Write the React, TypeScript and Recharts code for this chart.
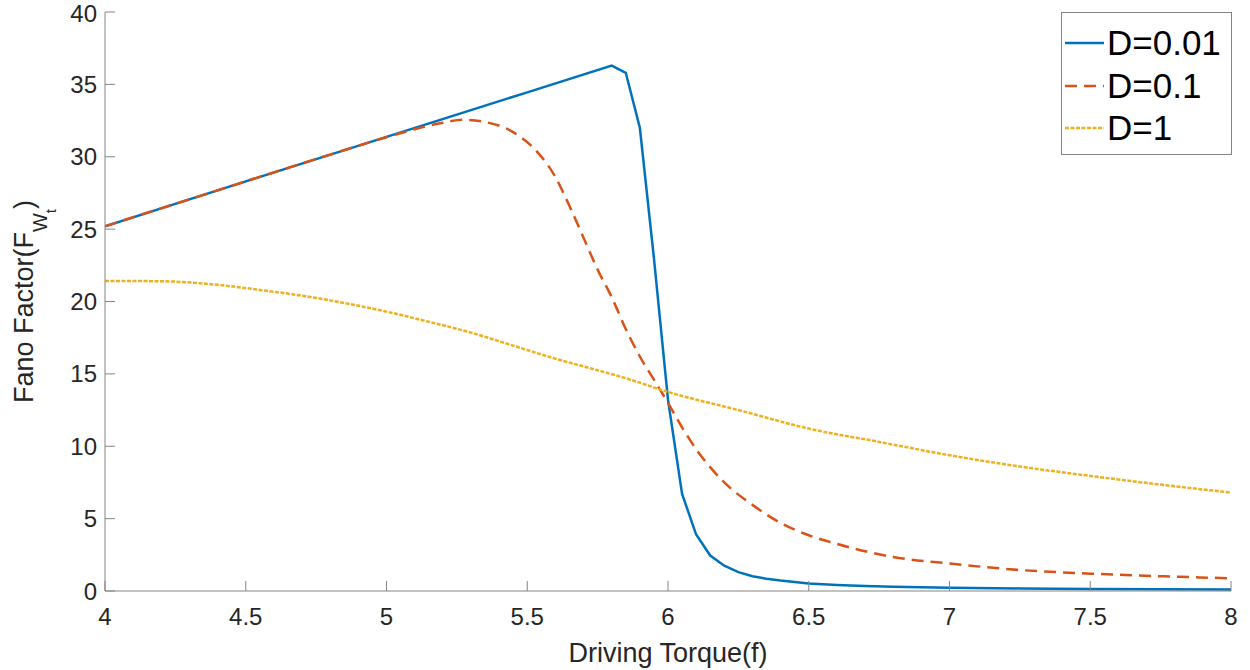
import React from "react";
import { LineChart, Line, XAxis, YAxis, Legend } from "recharts";

const FONT = '"Liberation Sans", Arial, Helvetica, sans-serif';

const xTicks = [4, 4.5, 5, 5.5, 6, 6.5, 7, 7.5, 8];
const yTicks = [0, 5, 10, 15, 20, 25, 30, 35, 40];

const seriesNames = ["D=0.01", "D=0.1", "D=1"];
const seriesColors = ["#0072BD", "#D95319", "#EDB120"];
const seriesDash = ["", "12 7", "4 1.5"];

const blueX = [4, 4.5, 5, 5.5, 5.8, 5.85, 5.9, 5.95, 6.0, 6.05, 6.1, 6.15, 6.2, 6.25, 6.3, 6.35, 6.4, 6.45, 6.5, 6.6, 6.7, 6.8, 6.9, 7.0, 7.25, 7.5, 7.75, 8];
const blueY = [25.2, 28.3, 31.37, 34.45, 36.3, 35.8, 32.0, 23.0, 13.2, 6.7, 3.9, 2.45, 1.75, 1.3, 1.02, 0.85, 0.72, 0.62, 0.52, 0.42, 0.35, 0.3, 0.26, 0.23, 0.18, 0.14, 0.12, 0.1];

const redX = [4, 4.5, 4.8, 5.0, 5.1, 5.2, 5.27, 5.35, 5.45, 5.53, 5.6, 5.65, 5.7, 5.75, 5.8, 5.85, 5.9, 5.95, 6.0, 6.05, 6.1, 6.2, 6.3, 6.4, 6.5, 6.6, 6.8, 7.0, 7.25, 7.5, 7.75, 8];
const redY = [25.2, 28.3, 30.15, 31.35, 31.9, 32.35, 32.55, 32.4, 31.7, 30.45, 28.6, 26.6, 24.4, 22.2, 20.3, 18.1, 16.2, 14.6, 13.0, 11.3, 9.8, 7.5, 5.95, 4.7, 3.85, 3.25, 2.35, 1.9, 1.45, 1.2, 1.02, 0.88];

const yellowX = [4, 4.2, 4.4, 4.55, 4.7, 4.85, 5.0, 5.15, 5.3, 5.45, 5.6, 5.75, 5.85, 6.0, 6.25, 6.5, 6.75, 7.0, 7.25, 7.5, 7.75, 8];
const yellowY = [21.42, 21.4, 21.15, 20.8, 20.4, 19.9, 19.3, 18.6, 17.85, 16.95, 16.05, 15.25, 14.7, 13.75, 12.5, 11.22, 10.3, 9.38, 8.6, 7.95, 7.35, 6.8];

const toData = (xs: number[], ys: number[]) => xs.map((x, i) => ({ x, y: ys[i] }));
const seriesData = [toData(blueX, blueY), toData(redX, redY), toData(yellowX, yellowY)];
const seriesCurve: ("linear" | "monotoneX")[] = ["linear", "monotoneX", "monotoneX"];

const AXIS_COLOR = "#858585";
const TEXT_COLOR = "#262626";

const YLabel = (props: any) => {
  const vb = props.viewBox || { x: 0, y: 0, width: 105, height: 578 };
  const cx = vb.x + 33;
  const cy = vb.y + vb.height / 2;
  return (
    <text
      x={cx}
      y={cy}
      transform={`rotate(-90, ${cx}, ${cy})`}
      textAnchor="middle"
      fill={TEXT_COLOR}
      fontFamily={FONT}
      fontSize={27}
    >
      Fano Factor(F
      <tspan dy={14} fontSize={20}>W</tspan>
      <tspan dy={9} fontSize={15}>t</tspan>
      <tspan dy={-23} fontSize={27}>)</tspan>
    </text>
  );
};

const XLabel = (props: any) => {
  const vb = props.viewBox || { x: 105, y: 591, width: 1126, height: 79 };
  return (
    <text
      x={vb.x + vb.width / 2}
      y={vb.y + 71}
      textAnchor="middle"
      fill={TEXT_COLOR}
      fontFamily={FONT}
      fontSize={27}
    >
      Driving Torque(f)
    </text>
  );
};

const renderLegend = () => (
  <div
    style={{
      width: 171,
      height: 143,
      boxSizing: "border-box",
      border: `1px solid ${AXIS_COLOR}`,
      background: "#fff",
      paddingTop: 9,
      fontFamily: FONT,
      fontSize: 35,
      color: "#000",
    }}
  >
    {seriesNames.map((name, i) => (
      <div key={name} style={{ display: "flex", alignItems: "center", height: 42.5 }}>
        <svg width={42} height={8} style={{ marginLeft: 2, flex: "none" }}>
          <line
            x1={1}
            y1={4}
            x2={40}
            y2={4}
            stroke={seriesColors[i]}
            strokeWidth={2.5}
            strokeDasharray={seriesDash[i] || undefined}
          />
        </svg>
        <span style={{ marginLeft: 1, lineHeight: "42px" }}>{name}</span>
      </div>
    ))}
  </div>
);

export default function App() {
  return (
    <div style={{ position: "absolute", left: 0, top: 0, width: 1250, height: 670, background: "#fff" }}>
      <LineChart width={1250} height={670} margin={{ top: 12, right: 19, bottom: 0, left: 0 }}>
        <XAxis
          xAxisId={0}
          dataKey="x"
          type="number"
          domain={[4, 8]}
          ticks={xTicks}
          allowDataOverflow
          height={79}
          tickSize={-10}
          tickMargin={27}
          stroke={AXIS_COLOR}
          tick={{ fill: TEXT_COLOR, fontSize: 24, fontFamily: FONT }}
          label={<XLabel />}
        />
        <XAxis
          xAxisId="top"
          orientation="top"
          type="number"
          domain={[4, 8]}
          ticks={xTicks}
          allowDataOverflow
          height={0}
          tickSize={-10}
          tick={false}
          stroke={AXIS_COLOR}
        />
        <YAxis
          yAxisId={0}
          type="number"
          domain={[0, 40]}
          ticks={yTicks}
          allowDataOverflow
          width={105}
          tickSize={-10}
          tickMargin={18}
          stroke={AXIS_COLOR}
          tick={{ fill: TEXT_COLOR, fontSize: 24, fontFamily: FONT }}
          label={<YLabel />}
        />
        <YAxis
          yAxisId="right"
          orientation="right"
          type="number"
          domain={[0, 40]}
          ticks={yTicks}
          allowDataOverflow
          width={0}
          tickSize={-10}
          tick={false}
          stroke={AXIS_COLOR}
        />
        {seriesNames.map((name, i) => (
          <Line
            key={name}
            xAxisId={0}
            yAxisId={0}
            data={seriesData[i]}
            dataKey="y"
            name={name}
            type={seriesCurve[i]}
            stroke={seriesColors[i]}
            strokeWidth={2.5}
            strokeDasharray={seriesDash[i] || undefined}
            dot={false}
            activeDot={false}
            isAnimationActive={false}
          />
        ))}
        <Legend
          content={renderLegend}
          layout="vertical"
          align="center"
          verticalAlign="middle"
          wrapperStyle={{ position: "absolute", top: 12, left: 1061, width: 171, height: 143 }}
        />
      </LineChart>
    </div>
  );
}
